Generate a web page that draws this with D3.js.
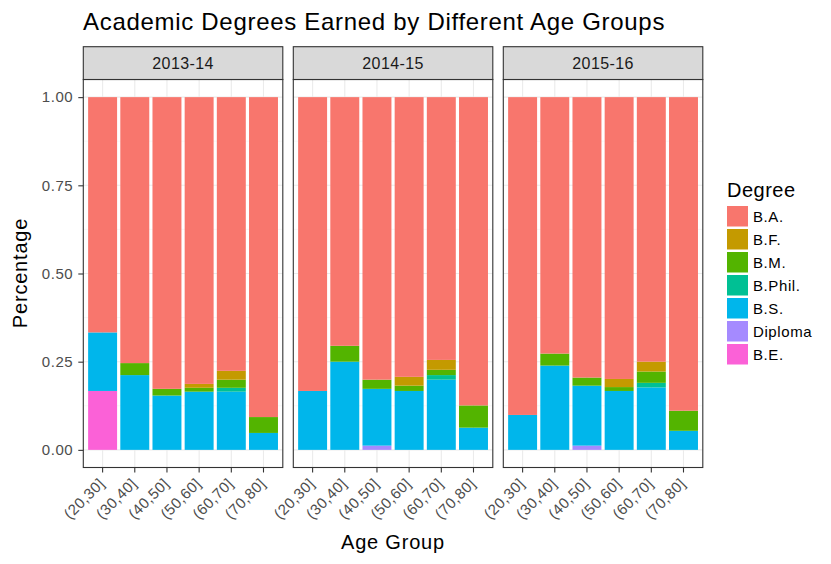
<!DOCTYPE html>
<html>
<head>
<meta charset="utf-8">
<script src="https://cdn.jsdelivr.net/npm/d3@7"></script>
<style>
  body { margin: 0; background: #fff; }
  svg { display: block; font-family: "Liberation Sans", Arial, sans-serif; }
</style>
</head>
<body>
<div id="chart"></div>
<script>
// data
var years = ["2013-14", "2014-15", "2015-16"];
var ageGroups = ["(20,30]", "(30,40]", "(40,50]", "(50,60]", "(60,70]", "(70,80]"];
var degrees = ["B.A.", "B.F.", "B.M.", "B.Phil.", "B.S.", "Diploma", "B.E."];
var colors = ["#F8766D", "#C49A00", "#53B400", "#00C094", "#00B6EB", "#A58AFF", "#FB61D7"];
var yTicks = [0, 0.25, 0.5, 0.75, 1];

// shares per year, one row per age group (B.A. fills the rest up to 1)
var beShare = [
  [0.167, 0, 0, 0, 0, 0],
  [0, 0, 0, 0, 0, 0],
  [0, 0, 0, 0, 0, 0]
];
var diplomaShare = [
  [0, 0, 0, 0, 0, 0],
  [0, 0, 0.012, 0, 0, 0],
  [0, 0, 0.012, 0, 0, 0]
];
var bsShare = [
  [0.166, 0.212, 0.154, 0.165, 0.165, 0.048],
  [0.167, 0.250, 0.161, 0.167, 0.199, 0.063],
  [0.099, 0.239, 0.170, 0.167, 0.177, 0.054]
];
var bphilShare = [
  [0, 0, 0, 0, 0.011, 0],
  [0, 0, 0, 0, 0.013, 0],
  [0, 0, 0, 0, 0.013, 0]
];
var bmShare = [
  [0, 0.034, 0.019, 0.011, 0.023, 0.045],
  [0, 0.045, 0.026, 0.015, 0.015, 0.063],
  [0, 0.034, 0.023, 0.011, 0.032, 0.057]
];
var bfShare = [
  [0, 0, 0, 0.011, 0.025, 0],
  [0, 0, 0, 0.025, 0.028, 0],
  [0, 0, 0, 0.023, 0.028, 0]
];

var W = 831, H = 564;
var panelW = 199.5, panelGap = 10.5;
var panelLeft = 83.3, plotTop = 79.5, plotBottom = 467.5;
var stripTop = 46.7;
var FONT = "Liberation Sans, Arial, sans-serif";

var svg = d3.select("#chart").append("svg").attr("width", W).attr("height", H);

var y = d3.scaleLinear().domain([-0.05, 1.05]).range([plotBottom, plotTop]);
// ggplot style: 0.6 units expansion each side, bar width 0.9
var x = d3.scaleBand().domain(ageGroups).range([0, panelW]).paddingInner(0.1).paddingOuter(0.15);
var color = d3.scaleOrdinal().domain(degrees).range(colors);

// stack order bottom -> top
var stackOrder = ["B.E.", "Diploma", "B.S.", "B.Phil.", "B.M.", "B.F.", "B.A."];

years.forEach(function (yr, p) {
  var rows = ageGroups.map(function (ag, i) {
    var r = { age: ag };
    r["B.E."] = beShare[p][i];
    r["Diploma"] = diplomaShare[p][i];
    r["B.S."] = bsShare[p][i];
    r["B.Phil."] = bphilShare[p][i];
    r["B.M."] = bmShare[p][i];
    r["B.F."] = bfShare[p][i];
    var s = r["B.E."] + r["Diploma"] + r["B.S."] + r["B.Phil."] + r["B.M."] + r["B.F."];
    r["B.A."] = 1 - s;
    return r;
  });
  var series = d3.stack().keys(stackOrder)(rows);

  var g = svg.append("g").attr("transform", "translate(" + (panelLeft + p * (panelW + panelGap)) + ",0)");

  // grid
  var minor = [0.125, 0.375, 0.625, 0.875];
  g.selectAll(".minor").data(minor).enter().append("line")
    .attr("x1", 0).attr("x2", panelW)
    .attr("y1", function (d) { return y(d); }).attr("y2", function (d) { return y(d); })
    .attr("stroke", "#F2F2F2").attr("stroke-width", 0.6);
  g.selectAll(".hmaj").data(yTicks).enter().append("line")
    .attr("x1", 0).attr("x2", panelW)
    .attr("y1", function (d) { return y(d); }).attr("y2", function (d) { return y(d); })
    .attr("stroke", "#EBEBEB").attr("stroke-width", 1.1);
  g.selectAll(".vmaj").data(ageGroups).enter().append("line")
    .attr("y1", plotTop).attr("y2", plotBottom)
    .attr("x1", function (d) { return x(d) + x.bandwidth() / 2; })
    .attr("x2", function (d) { return x(d) + x.bandwidth() / 2; })
    .attr("stroke", "#EBEBEB").attr("stroke-width", 1.1);

  // bars
  series.forEach(function (s) {
    g.selectAll(null).data(s.filter(function (d) { return d[1] - d[0] > 0; })).enter().append("rect")
      .attr("x", function (d) { return x(d.data.age); })
      .attr("width", x.bandwidth())
      .attr("y", function (d) { return y(d[1]); })
      .attr("height", function (d) { return y(d[0]) - y(d[1]); })
      .attr("fill", color(s.key));
  });

  // border
  g.append("rect").attr("x", 0).attr("y", plotTop).attr("width", panelW).attr("height", plotBottom - plotTop)
    .attr("fill", "none").attr("stroke", "#333333").attr("stroke-width", 1.1);

  // strip
  g.append("rect").attr("x", 0).attr("y", stripTop).attr("width", panelW).attr("height", plotTop - stripTop)
    .attr("fill", "#D9D9D9").attr("stroke", "#333333").attr("stroke-width", 1.1);
  g.append("text").attr("x", panelW / 2).attr("y", (stripTop + plotTop) / 2).attr("dy", "0.36em")
    .attr("text-anchor", "middle").attr("font-size", 16).attr("letter-spacing", 0.4)
    .attr("fill", "#1A1A1A").text(yr);

  // x axis
  var xa = g.append("g").attr("transform", "translate(0," + plotBottom + ")")
    .call(d3.axisBottom(x).tickSize(5).tickPadding(3));
  xa.select(".domain").remove();
  xa.selectAll(".tick line").attr("stroke", "#333333").attr("stroke-width", 1.1);
  xa.selectAll(".tick text")
    .attr("font-size", 15).attr("letter-spacing", 0.5).attr("fill", "#4D4D4D").attr("font-family", FONT)
    .attr("text-anchor", "end").attr("x", 0).attr("y", 0).attr("dy", 0)
    .attr("transform", "translate(3,17) rotate(-45)");

  if (p === 0) {
    var ya = g.append("g").call(d3.axisLeft(y).tickValues(yTicks).tickFormat(d3.format(".2f")).tickSize(5).tickPadding(5));
    ya.select(".domain").remove();
    ya.selectAll(".tick line").attr("stroke", "#333333").attr("stroke-width", 1.1);
    ya.selectAll(".tick text").attr("font-size", 15).attr("letter-spacing", 0.6).attr("fill", "#4D4D4D")
      .attr("font-family", FONT);
  }
});

// titles
svg.append("text").attr("x", 83).attr("y", 29.5).attr("font-size", 24).attr("letter-spacing", 0.7).attr("fill", "#000")
  .text("Academic Degrees Earned by Different Age Groups");
svg.append("text").attr("x", 393).attr("y", 549).attr("text-anchor", "middle").attr("font-size", 20)
  .attr("letter-spacing", 0.8).attr("fill", "#000").text("Age Group");
svg.append("text").attr("transform", "translate(27,273) rotate(-90)").attr("text-anchor", "middle")
  .attr("font-size", 20).attr("letter-spacing", 0.8).attr("fill", "#000").text("Percentage");

// legend
var lg = svg.append("g").attr("transform", "translate(727,0)");
lg.append("text").attr("x", 0).attr("y", 197).attr("font-size", 20).attr("letter-spacing", 0.5).attr("fill", "#000").text("Degree");
var items = lg.selectAll(".item").data(degrees).enter().append("g")
  .attr("transform", function (d, i) { return "translate(0," + (206 + i * 23) + ")"; });
items.append("rect").attr("width", 21).attr("height", 20.5).attr("fill", function (d) { return color(d); });
items.append("text").attr("x", 26).attr("y", 10.5).attr("dy", "0.36em").attr("font-size", 15)
  .attr("letter-spacing", 0.6).attr("fill", "#000")
  .text(function (d) { return d; });
</script>
</body>
</html>
